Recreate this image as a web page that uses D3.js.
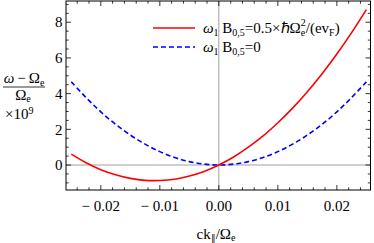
<!DOCTYPE html>
<html><head><meta charset="utf-8">
<script src="https://cdn.jsdelivr.net/npm/d3@7"></script>
<style>body{margin:0;background:#fff}svg{display:block}text{font-family:"Liberation Serif","Times New Roman",serif;fill:#000}</style>
</head><body>
<svg id="c" width="374" height="243"></svg>
<script>
const kValues = [-0.025,-0.0225,-0.02,-0.0175,-0.015,-0.0125,-0.01,-0.0075,-0.005,-0.0025,0,0.0025,0.005,0.0075,0.01,0.0125,0.015,0.0175,0.02,0.0225,0.025];
const redValues = [0.61,0.13,-0.26,-0.55,-0.75,-0.86,-0.87,-0.80,-0.62,-0.36,0,0.45,1.00,1.63,2.37,3.19,4.11,5.12,6.22,7.42,8.71];
const blueValues = [4.66,3.78,2.98,2.28,1.68,1.17,0.75,0.42,0.19,0.05,0,0.05,0.19,0.42,0.75,1.17,1.68,2.28,2.98,3.78,4.66];
const xTicks = [-0.02,-0.01,0,0.01,0.02];
const xTickLabels = ["\u2212 0.02","\u2212 0.01","0.00","0.01","0.02"];
const yTicks = [0,2,4,6,8];
const yTickLabels = ["0","2","4","6","8"];

const svg = d3.select("#c");
const L=66, R=370.5, T=1, B=190;
const x = d3.scaleLinear().domain([-0.0259,0.0257]).range([L,R]);
const y = d3.scaleLinear().domain([-1.40,9.19]).range([B,T]);

// zero axes
svg.append("line").attr("x1",L).attr("x2",R).attr("y1",y(0)).attr("y2",y(0)).attr("stroke","#a0a0a0").attr("stroke-width",1);
svg.append("line").attr("x1",x(0)).attr("x2",x(0)).attr("y1",T).attr("y2",B).attr("stroke","#a0a0a0").attr("stroke-width",1);

// frame
svg.append("rect").attr("x",L).attr("y",T).attr("width",R-L).attr("height",B-T).attr("fill","none").attr("stroke","#000").attr("stroke-width",1);

// ticks
const g = svg.append("g").attr("stroke","#000").attr("stroke-width",0.8);
const xMinor = d3.range(-0.026,0.0261,0.002).map(v=>+v.toFixed(4)).filter(v=>x(v)>L+1&&x(v)<R-1);
xMinor.forEach(v=>{
  const major = xTicks.some(t=>Math.abs(t-v)<1e-6);
  const len = major?5:2.7;
  g.append("line").attr("x1",x(v)).attr("x2",x(v)).attr("y1",B).attr("y2",B-len);
  g.append("line").attr("x1",x(v)).attr("x2",x(v)).attr("y1",T).attr("y2",T+len);
});
const yMinor = d3.range(-1,9.01,0.5).filter(v=>y(v)>T+1&&y(v)<B-1);
yMinor.forEach(v=>{
  const major = yTicks.includes(v);
  const len = major?5:2.7;
  g.append("line").attr("x1",L).attr("x2",L+len).attr("y1",y(v)).attr("y2",y(v));
  g.append("line").attr("x1",R).attr("x2",R-len).attr("y1",y(v)).attr("y2",y(v));
});

// tick labels
xTicks.forEach((v,i)=>{
  svg.append("text").attr("x",x(v)).attr("y",211).attr("text-anchor","middle").attr("font-size",15).text(xTickLabels[i]);
});
yTicks.forEach((v,i)=>{
  svg.append("text").attr("x",62.5).attr("y",y(v)).attr("dy","0.35em").attr("text-anchor","end").attr("font-size",15).text(yTickLabels[i]);
});

// curves
const line = d3.line().x((d,i)=>x(kValues[i])).y(d=>y(d)).curve(d3.curveCatmullRom);
svg.append("path").datum(blueValues).attr("d",line).attr("fill","none").attr("stroke","#0000ff").attr("stroke-width",1.6).attr("stroke-dasharray","5,3");
svg.append("path").datum(redValues).attr("d",line).attr("fill","none").attr("stroke","#ff0000").attr("stroke-width",1.6);

// legend
svg.append("line").attr("x1",153).attr("x2",195).attr("y1",28).attr("y2",28).attr("stroke","#ff0000").attr("stroke-width",1.6);
svg.append("line").attr("x1",153).attr("x2",195).attr("y1",47).attr("y2",47).attr("stroke","#0000ff").attr("stroke-width",1.6).attr("stroke-dasharray","5,3");
const t1 = svg.append("text").attr("x",203).attr("y",33).attr("font-size",15);
t1.append("tspan").attr("font-style","italic").text("ω");
t1.append("tspan").attr("font-size",10).attr("dy",3).text("1");
t1.append("tspan").attr("dy",-3).text(" B");
t1.append("tspan").attr("font-size",10).attr("dy",3).text("0,5");
t1.append("tspan").attr("dy",-3).text("=0.5×ℏΩ");
t1.append("tspan").attr("font-size",10).attr("dy",3).text("e");
t1.append("tspan").attr("font-size",10).attr("dx",-4.4).attr("dy",-10).text("2");
t1.append("tspan").attr("dy",7).text("/(ev");
t1.append("tspan").attr("font-size",10).attr("dy",3).text("F");
t1.append("tspan").attr("dy",-3).text(")");
const t2 = svg.append("text").attr("x",203).attr("y",52).attr("font-size",15);
t2.append("tspan").attr("font-style","italic").text("ω");
t2.append("tspan").attr("font-size",10).attr("dy",3).text("1");
t2.append("tspan").attr("dy",-3).text(" B");
t2.append("tspan").attr("font-size",10).attr("dy",3).text("0,5");
t2.append("tspan").attr("dy",-3).text("=0");

// y label
const n = svg.append("text").attr("x",24).attr("y",83).attr("font-size",15).attr("text-anchor","middle");
n.append("tspan").attr("font-style","italic").text("ω");
n.append("tspan").text("\u2009\u2212\u2009Ω");
n.append("tspan").attr("font-size",10).attr("dy",2.5).text("e");
svg.append("line").attr("x1",3).attr("x2",45).attr("y1",87).attr("y2",87).attr("stroke","#000").attr("stroke-width",0.8);
const d = svg.append("text").attr("x",23).attr("y",100).attr("font-size",15).attr("text-anchor","middle");
d.append("tspan").text("Ω");
d.append("tspan").attr("font-size",10).attr("dy",2).text("e");
const m = svg.append("text").attr("x",5).attr("y",119).attr("font-size",15);
m.append("tspan").text("×10");
m.append("tspan").attr("font-size",10).attr("dy",-5.5).text("9");

// x label
const xl = svg.append("text").attr("x",216).attr("y",238.5).attr("font-size",15).attr("text-anchor","middle");
xl.append("tspan").text("ck");
xl.append("tspan").attr("font-size",9).attr("dy",2).text("\u2225");
xl.append("tspan").attr("dy",-2).text("/Ω");
xl.append("tspan").attr("font-size",10).attr("dy",2).text("e");
</script>
</body></html>
